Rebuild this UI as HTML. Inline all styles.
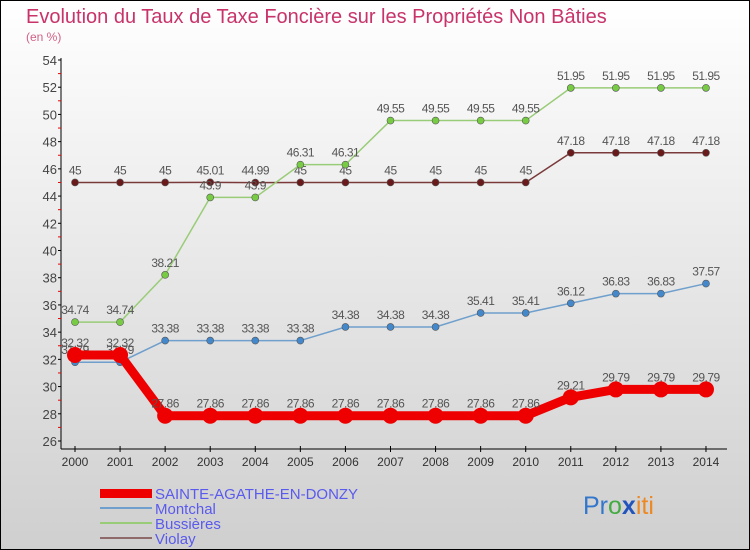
<!DOCTYPE html>
<html><head><meta charset="utf-8"><style>
body{margin:0}
#c{width:750px;height:550px;position:relative;overflow:hidden;box-sizing:border-box;border:1px solid #000;background:linear-gradient(#ffffff,#cfcfcf);font-family:"Liberation Sans",sans-serif}
</style></head><body>
<div id="c">
<svg id="s" width="750" height="550" style="position:absolute;left:-1px;top:-1px;font-family:'Liberation Sans',sans-serif">
<text x="26" y="23" font-size="20" fill="#c8336a">Evolution du Taux de Taxe Foncière sur les Propriétés Non Bâties</text>
<text x="26" y="41" font-size="12" fill="#d06088">(en %)</text>
<g id="g"></g>
<g>
<rect x="100" y="489" width="52" height="9" fill="#ee0000"/>
<line x1="100" y1="508" x2="152" y2="508" stroke="#6f9fcc" stroke-width="2"/>
<line x1="100" y1="523" x2="152" y2="523" stroke="#99cc77" stroke-width="2"/>
<line x1="100" y1="538" x2="152" y2="538" stroke="#8f6a6a" stroke-width="2"/>
<g font-size="15" fill="#5a5aee">
<text x="155" y="499">SAINTE-AGATHE-EN-DONZY</text>
<text x="155" y="514">Montchal</text>
<text x="155" y="529">Bussières</text>
<text x="155" y="544">Violay</text>
</g></g>
<text x="583" y="514" font-size="25"><tspan fill="#3377cc">Pr</tspan><tspan fill="#44aa44">o</tspan><tspan fill="#2255bb" font-weight="bold">x</tspan><tspan fill="#ee8822">iti</tspan></text>
</svg>
</div>
<script>
const years=[2000,2001,2002,2003,2004,2005,2006,2007,2008,2009,2010,2011,2012,2013,2014];
const yTicks=[26,28,30,32,34,36,38,40,42,44,46,48,50,52,54];
const sainte=[32.32,32.32,27.86,27.86,27.86,27.86,27.86,27.86,27.86,27.86,27.86,29.21,29.79,29.79,29.79];
const montchal=[31.79,31.79,33.38,33.38,33.38,33.38,34.38,34.38,34.38,35.41,35.41,36.12,36.83,36.83,37.57];
const bussieres=[34.74,34.74,38.21,43.9,43.9,46.31,46.31,49.55,49.55,49.55,49.55,51.95,51.95,51.95,51.95];
const violay=[45,45,45,45.01,44.99,45,45,45,45,45,45,47.18,47.18,47.18,47.18];
const NS="http://www.w3.org/2000/svg";
const g=document.getElementById('g');
const X=i=>75+i*45.07, Y=v=>441-(v-26)*(381/28);
function mk(t,a,p){const e=document.createElementNS(NS,t);for(const k in a)e.setAttribute(k,a[k]);(p||g).appendChild(e);return e;}
let e=mk('line',{x1:61,y1:58,x2:61,y2:449,stroke:'#000'});


e=mk('line',{x1:61,y1:449,x2:727,y2:449,stroke:'#000'});


yTicks.forEach((v,i)=>{
 mk('line',{x1:58,x2:61,y1:Y(v),y2:Y(v),stroke:'#000'});
 if(i<yTicks.length-1)mk('line',{x1:58,x2:61,y1:Y(v+1),y2:Y(v+1),stroke:'#e00'});
 const t=mk('text',{x:57,y:Y(v)+5,'text-anchor':'end','font-size':13,fill:'#444'});t.textContent=v;
 
 
});
years.forEach((yr,i)=>{
 mk('line',{x1:X(i),x2:X(i),y1:446,y2:452,stroke:'#000'});
 const t=mk('text',{x:X(i),y:466,'text-anchor':'middle','font-size':12,fill:'#333'});t.textContent=yr;
 
 
});
function series(d,col,dot,w,r,name){
 const p=d.map((v,i)=>(i?'L':'M')+X(i)+' '+Y(v)).join(' ');
 const l=mk('path',{d:p,fill:'none',stroke:col,'stroke-width':w,'stroke-linejoin':'round'});
 
 
 d.forEach((v,i)=>{
  const c=mk('circle',{cx:X(i),cy:Y(v),r:r,fill:dot,stroke:col==='#ee0000'?'none':'#555','stroke-width':0.6});
  
  
  const t=mk('text',{x:X(i),y:Y(v)-8,'text-anchor':'middle','font-size':12,fill:'#555','letter-spacing':'-0.5'});t.textContent=v;
  
  
 });
}
series(violay,'#7a3a3a','#6a1a1a',1.5,3.5,'violay');
series(bussieres,'#99cc77','#77cc44',1.5,3.5,'bussieres');
series(montchal,'#6f9fcc','#4488cc',1.5,3.5,'montchal');
series(sainte,'#ee0000','#ee0000',9,8,'sainte-agathe');
</script>
</body></html>
